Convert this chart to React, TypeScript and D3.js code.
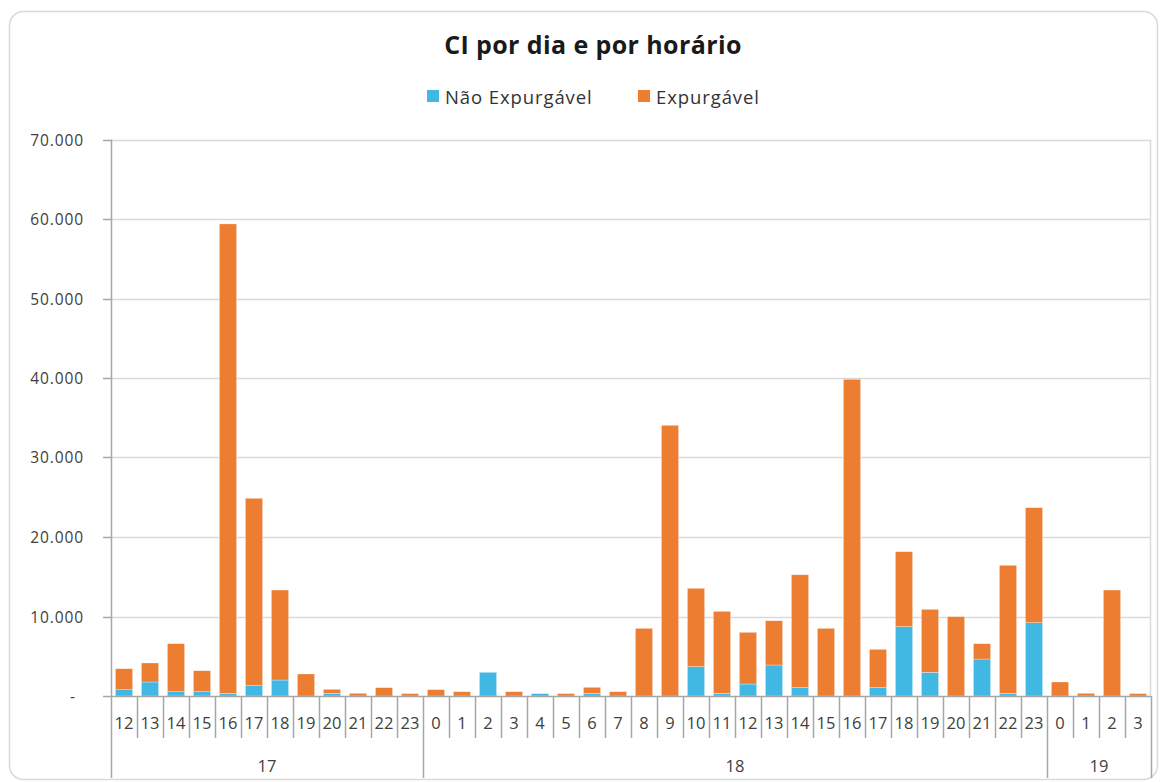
import { useEffect, useRef } from 'react'
import * as d3 from 'd3'

// days and their hours (x axis, two levels)
const DAYS = ['17', '18', '19']
const HOURS_17 = ['12', '13', '14', '15', '16', '17', '18', '19', '20', '21', '22', '23']
const HOURS_18 = ['0', '1', '2', '3', '4', '5', '6', '7', '8', '9', '10', '11', '12', '13', '14', '15', '16', '17', '18', '19', '20', '21', '22', '23']
const HOURS_19 = ['0', '1', '2', '3']

// series values, in hour order
const NAO_EXPURGAVEL = [
  790, 1760, 540, 540, 340, 1300, 2010, 0, 340, 0, 0, 0,
  0, 0, 2980, 0, 300, 0, 340, 0, 0, 0, 3690, 340, 1510, 3900, 1050, 0, 0, 1050, 8720, 2980, 0, 4650, 340, 9220,
  0, 0, 0, 0,
]
const EXPURGAVEL = [
  2640, 2390, 6040, 2640, 59040, 23570, 11320, 2770, 500, 340, 1050, 300,
  800, 540, 0, 540, 0, 300, 750, 540, 8510, 34050, 9860, 10310, 6500, 5570, 14200, 8510, 39840, 4820, 9430, 7920, 9980, 1930, 16100, 14470,
  1760, 340, 13330, 300,
]

const Y_TICKS = [0, 10000, 20000, 30000, 40000, 50000, 60000, 70000]
const SERIES = ['Não Expurgável', 'Expurgável']
const COLORS = ['#41b8e4', '#ed7d31']

const FONT = '"Open Sans", "Noto Sans", sans-serif'

export default function App() {
  const svgRef = useRef<SVGSVGElement>(null)

  useEffect(() => {
    const svgEl = svgRef.current
    if (!svgEl) return
    const W = 1160
    const H = 782
    const svg = d3.select(svgEl)
    svg.selectAll('*').remove()

    const hourGroups = [HOURS_17, HOURS_18, HOURS_19]
    const cats: { day: string; hour: string; i: number }[] = []
    hourGroups.forEach((hs, d) => hs.forEach(h => cats.push({ day: DAYS[d], hour: h, i: cats.length })))
    const rows = cats.map(c => ({ key: String(c.i), nao: NAO_EXPURGAVEL[c.i], exp: EXPURGAVEL[c.i] }))

    const left = 111, right = 1151, top = 139.5, base = 696
    const x = d3.scaleBand<string>().domain(rows.map(r => r.key)).range([left, right])
      .paddingInner(0.34).paddingOuter(0.17)
    const y = d3.scaleLinear().domain([0, 70000]).range([base, top])
    const step = x.step()

    // frame
    svg.append('rect').attr('x', 9.5).attr('y', 11.5).attr('width', 1148).attr('height', 768)
      .attr('rx', 14).attr('fill', '#fff').attr('stroke', '#d9d9d9').attr('stroke-width', 1.5)

    // title
    svg.append('text').attr('x', 593).attr('y', 54).attr('text-anchor', 'middle')
      .attr('font-family', FONT).attr('font-weight', 700).attr('font-size', 25).attr('letter-spacing', 0.4)
      .attr('fill', '#1a1a1a').text('CI por dia e por horário')

    // legend
    const legendX = [427, 638]
    SERIES.forEach((s, i) => {
      svg.append('rect').attr('x', legendX[i]).attr('y', 90).attr('width', 12).attr('height', 12).attr('fill', COLORS[i])
      svg.append('text').attr('x', legendX[i] + 18).attr('y', 104).attr('font-family', FONT).attr('font-size', 18.5)
        .attr('letter-spacing', 0.9).attr('fill', '#333').text(s)
    })

    // gridlines
    svg.append('g').selectAll('line').data(Y_TICKS.filter(t => t > 0)).join('line')
      .attr('x1', left).attr('x2', right).attr('y1', d => Math.round(y(d)) + 0.5).attr('y2', d => Math.round(y(d)) + 0.5)
      .attr('stroke', '#d9d9d9').attr('stroke-width', 1.5)
    svg.append('line').attr('x1', right - 0.5).attr('x2', right - 0.5).attr('y1', top).attr('y2', base)
      .attr('stroke', '#d9d9d9').attr('stroke-width', 1.5)

    // bars
    const stack = d3.stack<typeof rows[number]>().keys(['nao', 'exp'])
    const layers = stack(rows)
    layers.forEach((layer, li) => {
      svg.append('g').selectAll('rect').data(layer).join('rect')
        .attr('x', d => x(d.data.key)!)
        .attr('width', x.bandwidth())
        .attr('y', d => y(d[1]))
        .attr('height', d => y(d[0]) - y(d[1]))
        .attr('fill', COLORS[li])
        .attr('stroke', '#fff').attr('stroke-opacity', 0.5).attr('stroke-width', 0.6)
    })

    // y axis
    svg.append('line').attr('x1', left + 0.5).attr('x2', left + 0.5).attr('y1', top).attr('y2', base)
      .attr('stroke', '#a6a6a6').attr('stroke-width', 1.5)
    const fmt = (v: number) => v === 0 ? '-' : d3.format(',')(v).replace(/,/g, '.')
    Y_TICKS.forEach(t => {
      const ty = Math.round(y(t)) + 0.5
      svg.append('line').attr('x1', 103).attr('x2', left).attr('y1', ty).attr('y2', ty)
        .attr('stroke', '#a6a6a6').attr('stroke-width', 1.5)
      svg.append('text').attr('x', t === 0 ? 76 : 84).attr('y', ty + 5.5).attr('text-anchor', 'end')
        .attr('font-family', FONT).attr('font-size', 15.5).attr('letter-spacing', 0.9)
        .attr('fill', '#404040').text(fmt(t))
    })

    // x axis
    svg.append('line').attr('x1', left).attr('x2', right).attr('y1', base + 0.5).attr('y2', base + 0.5)
      .attr('stroke', '#a6a6a6').attr('stroke-width', 1.5)
    const dayStarts = [0, HOURS_17.length, HOURS_17.length + HOURS_18.length, cats.length]
    d3.range(cats.length + 1).forEach(i => {
      const bx = Math.round(left + i * step) + 0.5
      const long = dayStarts.includes(i)
      svg.append('line').attr('x1', bx).attr('x2', bx).attr('y1', base).attr('y2', long ? 778 : 738)
        .attr('stroke', '#a6a6a6').attr('stroke-width', 1.5)
    })
    cats.forEach(c => {
      svg.append('text').attr('x', x(String(c.i))! + x.bandwidth() / 2).attr('y', 729).attr('text-anchor', 'middle')
        .attr('font-family', FONT).attr('font-size', 16.5).attr('fill', '#404040').text(c.hour)
    })
    DAYS.forEach((d, k) => {
      const cx = left + (dayStarts[k] + dayStarts[k + 1]) / 2 * step
      svg.append('text').attr('x', cx).attr('y', 772).attr('text-anchor', 'middle')
        .attr('font-family', FONT).attr('font-size', 16.5).attr('fill', '#404040').text(d)
    })

    svg.attr('viewBox', `0 0 ${W} ${H}`)
  }, [])

  return (
    <div style={{ position: 'absolute', left: 0, top: 0, width: 1160, height: 782, background: '#fff' }}>
      <svg ref={svgRef} width={1160} height={782} style={{ display: 'block' }} />
    </div>
  )
}
